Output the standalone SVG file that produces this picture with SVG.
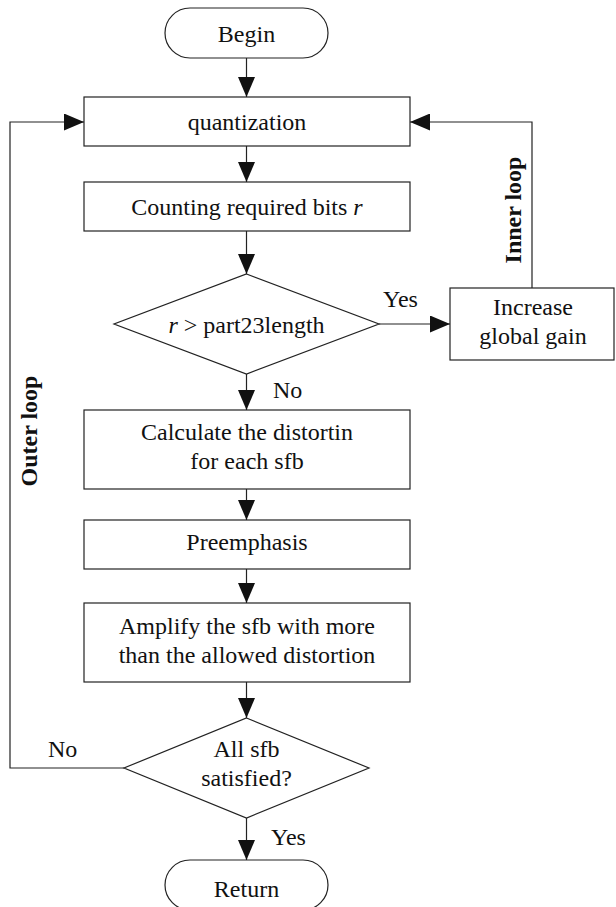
<svg xmlns="http://www.w3.org/2000/svg" width="616" height="907" viewBox="0 0 616 907">
<style>
.box{fill:#fff;stroke:#222;stroke-width:1.2}
.t{font-family:"Liberation Serif","Times New Roman",serif;font-size:24px;fill:#111;text-anchor:middle}
.l{font-family:"Liberation Serif","Times New Roman",serif;font-size:24px;fill:#111}
.b{font-family:"Liberation Serif","Times New Roman",serif;font-size:24px;font-weight:bold;fill:#111;text-anchor:middle}
.c{fill:none;stroke:#222;stroke-width:1.2}
</style>
<defs>
<marker id="ah" viewBox="0 0 20 17" refX="20" refY="8.5" markerWidth="20" markerHeight="17" markerUnits="userSpaceOnUse" orient="auto">
<path d="M0,0 L20,8.5 L0,17 Z" fill="#111"/>
</marker>
</defs>
<g id="connectors">
<path class="c" d="M246.5,58 V97" marker-end="url(#ah)"/>
<path class="c" d="M246.5,146 V182" marker-end="url(#ah)"/>
<path class="c" d="M246.5,231 V274" marker-end="url(#ah)"/>
<path class="c" d="M379,324 H450" marker-end="url(#ah)"/>
<path class="c" d="M532,288 V122 H410" marker-end="url(#ah)"/>
<path class="c" d="M246.5,374 V410" marker-end="url(#ah)"/>
<path class="c" d="M246.5,489 V520" marker-end="url(#ah)"/>
<path class="c" d="M246.5,569 V603" marker-end="url(#ah)"/>
<path class="c" d="M246.5,682 V718" marker-end="url(#ah)"/>
<path class="c" d="M124,768 H10 V122 H84" marker-end="url(#ah)"/>
<path class="c" d="M246.5,818 V860" marker-end="url(#ah)"/>
<text class="l" x="383" y="307">Yes</text>
<text class="l" x="273" y="398">No</text>
<text class="l" x="48" y="757">No</text>
<text class="l" x="271" y="845">Yes</text>
<text class="b" transform="translate(521,210) rotate(-90)">Inner loop</text>
<text class="b" transform="translate(37,431) rotate(-90)">Outer loop</text>
</g>
<g id="begin">
<rect class="box" x="165" y="8" width="163" height="50" rx="25" ry="25"/>
<text class="t" x="246.5" y="42">Begin</text>
</g>
<g id="quantization">
<rect class="box" x="84" y="97" width="326" height="49"/>
<text class="t" x="247" y="130">quantization</text>
</g>
<g id="counting">
<rect class="box" x="84" y="182" width="326" height="49"/>
<text class="t" x="247" y="215">Counting required bits <tspan font-style="italic">r</tspan></text>
</g>
<g id="decision1">
<polygon class="box" points="246.5,274 379,324 246.5,374 114,324"/>
<text class="t" x="246.5" y="333"><tspan font-style="italic">r</tspan> &gt; part23length</text>
</g>
<g id="increase">
<rect class="box" x="450" y="288" width="164" height="72"/>
<text class="t" x="533" y="315">Increase</text>
<text class="t" x="533" y="344">global gain</text>
</g>
<g id="calculate">
<rect class="box" x="84" y="410" width="326" height="79"/>
<text class="t" x="247" y="440">Calculate the distortin</text>
<text class="t" x="247" y="469">for each sfb</text>
</g>
<g id="preemphasis">
<rect class="box" x="84" y="520" width="326" height="49"/>
<text class="t" x="247" y="550">Preemphasis</text>
</g>
<g id="amplify">
<rect class="box" x="84" y="603" width="326" height="79"/>
<text class="t" x="247" y="634">Amplify the sfb with more</text>
<text class="t" x="247" y="663">than the allowed distortion</text>
</g>
<g id="decision2">
<polygon class="box" points="246.5,718 369,768 246.5,818 124,768"/>
<text class="t" x="246.5" y="757">All sfb</text>
<text class="t" x="246.5" y="786">satisfied?</text>
</g>
<g id="return">
<rect class="box" x="165" y="860" width="163" height="50" rx="25" ry="25"/>
<text class="t" x="246.5" y="897">Return</text>
</g>
</svg>
